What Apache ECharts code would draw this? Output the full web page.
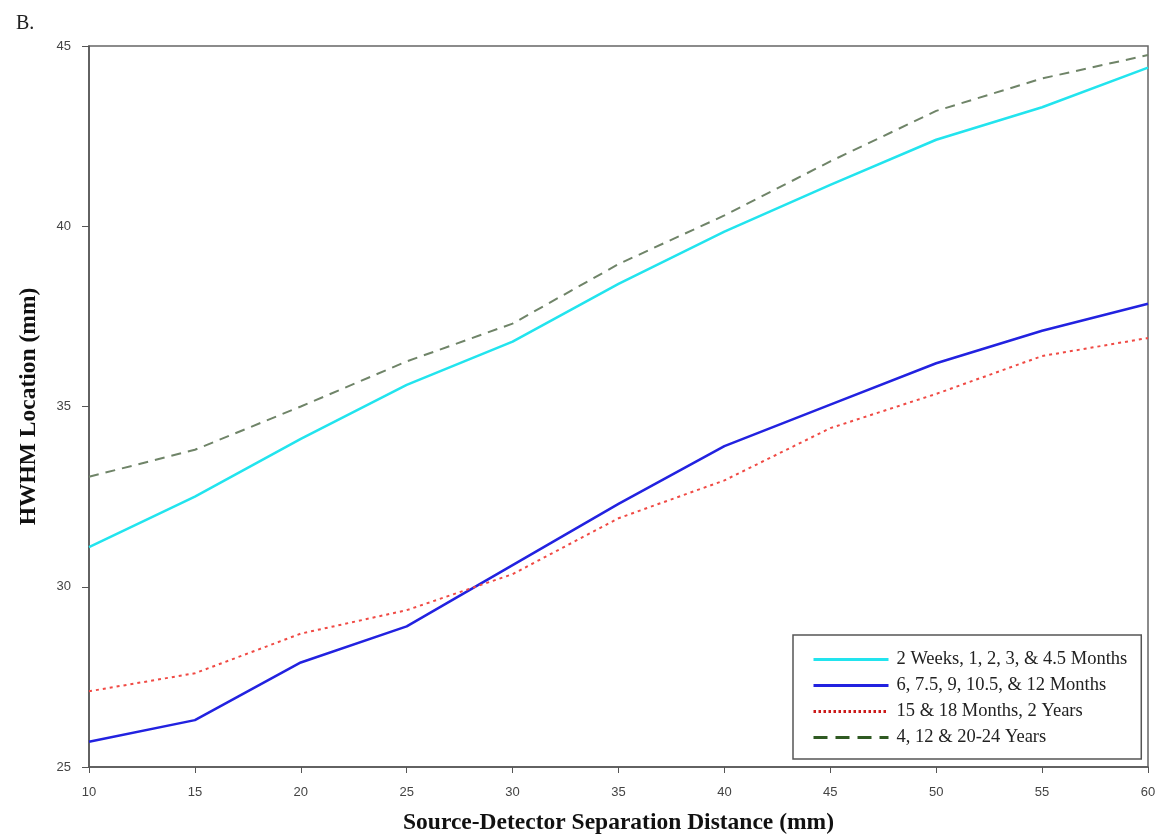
<!DOCTYPE html>
<html>
<head>
<meta charset="utf-8">
<script src="https://cdn.jsdelivr.net/npm/echarts@6/dist/echarts.min.js"></script>
<style>
    html, body { margin: 0; padding: 0; background: #fff; }
    #chart { width: 1171px; height: 836px; }
</style>
</head>
<body>
<div id="chart"></div>
<script type="text/javascript">
    // source-detector separation (mm)
    var distances = [10, 15, 20, 25, 30, 35, 40, 45, 50, 55, 60];
    var youngInfants = [31.1, 32.5, 34.1, 35.6, 36.8, 38.4, 39.85, 41.15, 42.4, 43.3, 44.4];
    var olderInfants = [25.7, 26.3, 27.9, 28.9, 30.6, 32.3, 33.9, 35.05, 36.2, 37.1, 37.85];
    var toddlers = [27.1, 27.6, 28.7, 29.35, 30.35, 31.9, 32.95, 34.4, 35.35, 36.4, 36.9];
    var olderGroups = [33.05, 33.8, 35.0, 36.25, 37.3, 38.95, 40.3, 41.8, 43.2, 44.1, 44.75];
    var seriesNames = [
        '2 Weeks, 1, 2, 3, & 4.5 Months',
        '6, 7.5, 9, 10.5, & 12 Months',
        '15 & 18 Months, 2 Years',
        '4, 12 & 20-24 Years'
    ];

    function pairs(ys) {
        return distances.map(function (x, i) { return [x, ys[i]]; });
    }

    var chart = echarts.init(document.getElementById('chart'));
    var serif = 'Liberation Serif';
    var sans = 'Liberation Sans';

    chart.setOption({
        backgroundColor: '#fff',
        animation: false,
        title: {
            text: 'B.',
            left: 11, top: 9,
            textStyle: { fontFamily: serif, fontSize: 20, fontWeight: 'normal', color: '#222' }
        },
        grid: {
            left: 89, right: 23, top: 46, bottom: 69,
            outerBoundsMode: 'none',
            show: true, borderColor: '#666', borderWidth: 1.5
        },
        legend: {
            orient: 'vertical',
            left: 793, top: 635,
            padding: [15, 14, 12, 19],
            itemWidth: 75, itemHeight: 14, itemGap: 7,
            borderColor: '#555', borderWidth: 1.5,
            itemStyle: { opacity: 0 },
            textStyle: { fontFamily: serif, fontSize: 18.5, color: '#222', padding: [0, 0, 0, 3] },
            data: [
                { name: seriesNames[0], lineStyle: { width: 3 } },
                { name: seriesNames[1], lineStyle: { width: 3 } },
                { name: seriesNames[2], lineStyle: { color: '#cc1a1a', width: 3, type: [2.5, 2.5] } },
                { name: seriesNames[3], lineStyle: { color: '#2f5a22', width: 3, type: [14, 8] } }
            ]
        },
        xAxis: {
            type: 'value',
            min: 10, max: 60, interval: 5,
            name: 'Source-Detector Separation Distance (mm)',
            nameLocation: 'middle', nameGap: 44,
            nameTextStyle: { fontFamily: serif, fontSize: 23.5, fontWeight: 'bold', color: '#111' },
            axisLine: { lineStyle: { color: '#555', width: 1.5 } },
            axisTick: { lineStyle: { color: '#555' }, length: 6 },
            axisLabel: { fontFamily: sans, fontSize: 13, color: '#444', margin: 19 },
            splitLine: { show: false }
        },
        yAxis: {
            type: 'value',
            min: 25, max: 45, interval: 5,
            name: 'HWHM Location (mm)',
            nameLocation: 'middle', nameGap: 48,
            nameTextStyle: { fontFamily: serif, fontSize: 23.5, fontWeight: 'bold', color: '#111' },
            axisLine: { show: true, lineStyle: { color: '#555', width: 1.5 } },
            axisTick: { show: true, lineStyle: { color: '#555' }, length: 7 },
            axisLabel: { fontFamily: sans, fontSize: 13, color: '#444', margin: 18 },
            splitLine: { show: false }
        },
        series: [
            {
                name: seriesNames[0], type: 'line', symbol: 'none',
                data: pairs(youngInfants),
                lineStyle: { color: '#22e4ee', width: 2.5 },
                itemStyle: { color: '#22e4ee' }
            },
            {
                name: seriesNames[1], type: 'line', symbol: 'none',
                data: pairs(olderInfants),
                lineStyle: { color: '#2222e0', width: 2.5 },
                itemStyle: { color: '#2222e0' }
            },
            {
                name: seriesNames[2], type: 'line', symbol: 'none',
                data: pairs(toddlers),
                lineStyle: { color: '#f04a44', width: 2, type: [3, 4] },
                itemStyle: { color: '#d42020' }
            },
            {
                name: seriesNames[3], type: 'line', symbol: 'none',
                data: pairs(olderGroups),
                lineStyle: { color: '#6f8468', width: 2, type: [10, 7] },
                itemStyle: { color: '#3a5a2a' }
            }
        ]
    });
</script>
</body>
</html>
